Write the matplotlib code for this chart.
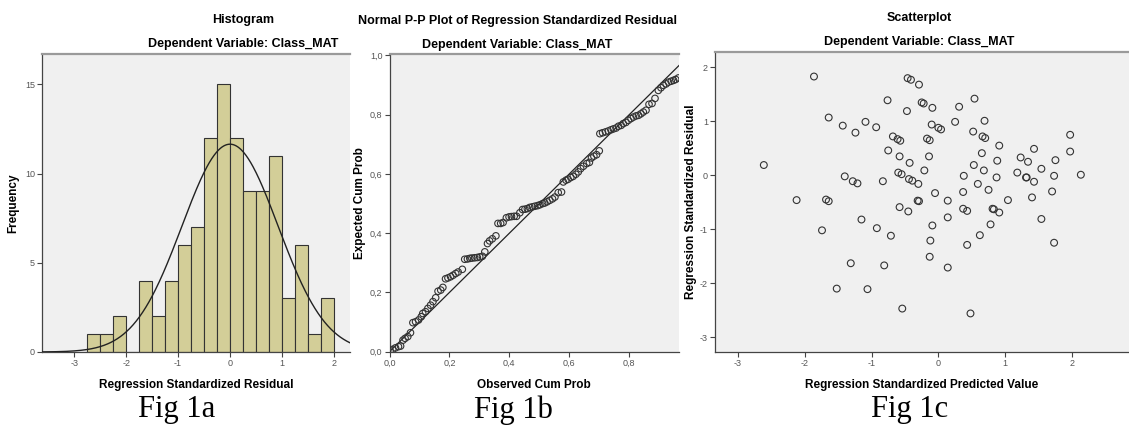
import numpy as np
import matplotlib
matplotlib.use("Agg")
import matplotlib.pyplot as plt
from matplotlib.ticker import FuncFormatter

plt.rcParams["font.family"] = ["Liberation Sans", "DejaVu Sans"]
plt.rcParams["axes.unicode_minus"] = False

# --- histogram (Fig 1a) ---
bin_edges = [-2.75, -2.5, -2.25, -2.0, -1.75, -1.5, -1.25, -1.0, -0.75, -0.5,
             -0.25, 0.0, 0.25, 0.5, 0.75, 1.0, 1.25, 1.5, 1.75, 2.0]
bin_counts = [1, 1, 2, 0, 4, 2, 4, 6, 7, 12, 15, 12, 9, 9, 11, 3, 6, 1, 3]
resid_mean = 0.0
resid_sd = 0.925
n_cases = 108

# --- normal P-P plot (Fig 1b) ---
observed_cum = [0.002, 0.011, 0.020, 0.030, 0.037, 0.045, 0.052, 0.061, 0.070,
                0.078, 0.087, 0.097, 0.106, 0.111, 0.120, 0.128, 0.137, 0.145,
                0.154, 0.162, 0.171, 0.178, 0.187, 0.195, 0.204, 0.212, 0.221,
                0.229, 0.243, 0.251, 0.260, 0.268, 0.275, 0.284, 0.293, 0.301,
                0.310, 0.318, 0.327, 0.334, 0.343, 0.355, 0.362, 0.371, 0.379,
                0.390, 0.399, 0.407, 0.416, 0.424, 0.435, 0.444, 0.452, 0.460,
                0.468, 0.477, 0.485, 0.494, 0.502, 0.511, 0.518, 0.526, 0.535,
                0.544, 0.552, 0.563, 0.574, 0.580, 0.589, 0.596, 0.605, 0.613,
                0.622, 0.630, 0.638, 0.647, 0.658, 0.667, 0.674, 0.682, 0.691,
                0.700, 0.702, 0.711, 0.721, 0.730, 0.739, 0.747, 0.756, 0.764,
                0.773, 0.780, 0.789, 0.797, 0.806, 0.814, 0.823, 0.831, 0.839,
                0.847, 0.856, 0.866, 0.876, 0.886, 0.897, 0.906, 0.914, 0.923,
                0.931, 0.940, 0.948, 0.955, 0.964]
expected_cum = [0.003, 0.008, 0.013, 0.017, 0.019, 0.039, 0.045, 0.051, 0.064,
                0.098, 0.101, 0.107, 0.118, 0.129, 0.135, 0.146, 0.157, 0.169,
                0.182, 0.204, 0.208, 0.217, 0.246, 0.249, 0.253, 0.258, 0.264,
                0.269, 0.278, 0.312, 0.313, 0.315, 0.316, 0.317, 0.318, 0.320,
                0.322, 0.337, 0.365, 0.374, 0.381, 0.391, 0.433, 0.433, 0.436,
                0.452, 0.455, 0.456, 0.457, 0.457, 0.469, 0.480, 0.481, 0.483,
                0.487, 0.489, 0.491, 0.493, 0.496, 0.500, 0.502, 0.506, 0.511,
                0.516, 0.522, 0.537, 0.539, 0.573, 0.579, 0.582, 0.588, 0.592,
                0.599, 0.607, 0.618, 0.626, 0.635, 0.639, 0.654, 0.660, 0.665,
                0.678, 0.736, 0.739, 0.742, 0.745, 0.749, 0.752, 0.755, 0.761,
                0.764, 0.770, 0.774, 0.781, 0.787, 0.792, 0.796, 0.798, 0.803,
                0.809, 0.815, 0.835, 0.838, 0.855, 0.882, 0.891, 0.899, 0.904,
                0.910, 0.913, 0.916, 0.919, 0.924]

# --- scatterplot (Fig 1c) ---
pred_value = [-1.86, -0.46, -0.41, -0.29, -0.76, 0.54, -0.25, -0.22, 0.31, -0.09,
              -0.47, -1.64, -1.09, 0.25, 0.69, -1.43, -0.93, -0.10, 0.00, 0.04,
              -1.24, 0.52, -0.68, -0.61, -0.57, -0.17, -0.13, 0.66, 0.70, 0.91,
              -0.75, 1.43, 1.97, 1.97, -0.58, -0.14, 0.65, 1.23, -2.61, -0.43,
              0.53, 0.88, 1.34, 1.75, 1.54, -0.21, 0.68, -0.60, -0.55, 1.18,
              2.13, -1.40, 0.38, 1.73, 1.32, 1.31, -1.28, -1.21, -0.83, -0.44,
              -0.39, -0.30, 0.59, 0.87, 1.43, -0.05, 0.37, 0.75, 1.70, -2.12,
              -1.68, -1.64, -0.31, -0.29, 0.14, 1.04, 1.40, -0.58, -0.45, 0.37,
              0.43, 0.81, 0.83, 0.91, -1.15, 0.14, 1.54, -1.74, -0.92, -0.09,
              0.78, -0.71, -0.12, 0.62, 0.43, 1.73, -0.13, -1.31, -0.81, 0.14,
              -1.52, -1.06, -0.54, 0.48]
std_resid = [1.83, 1.80, 1.77, 1.68, 1.39, 1.42, 1.35, 1.33, 1.27, 1.25,
             1.19, 1.07, 0.99, 0.99, 1.01, 0.92, 0.89, 0.94, 0.88, 0.85,
             0.79, 0.81, 0.72, 0.67, 0.64, 0.68, 0.65, 0.72, 0.69, 0.55,
             0.46, 0.49, 0.75, 0.44, 0.35, 0.35, 0.41, 0.33, 0.19, 0.23,
             0.19, 0.27, 0.25, 0.28, 0.12, 0.09, 0.09, 0.05, 0.02, 0.05,
             0.01, -0.02, -0.01, -0.01, -0.04, -0.04, -0.11, -0.15, -0.11, -0.07,
             -0.10, -0.16, -0.16, -0.04, -0.12, -0.33, -0.31, -0.27, -0.30, -0.46,
             -0.45, -0.48, -0.47, -0.48, -0.47, -0.46, -0.41, -0.59, -0.67, -0.62,
             -0.66, -0.62, -0.63, -0.69, -0.82, -0.78, -0.81, -1.02, -0.98, -0.93,
             -0.91, -1.12, -1.21, -1.11, -1.29, -1.25, -1.51, -1.63, -1.67, -1.71,
             -2.10, -2.11, -2.47, -2.56]

bg = "#f0f0f0"
bar_color = "#d3ce98"
edge = "#333333"
tick_col = "#555555"

fig = plt.figure(figsize=(11.29, 4.28), dpi=100)


def style_axes(ax):
    ax.set_facecolor(bg)
    ax.spines["right"].set_visible(False)
    ax.spines["top"].set_color("#9a9a9a")
    ax.spines["top"].set_linewidth(1.6)
    ax.spines["left"].set_color("#444444")
    ax.spines["bottom"].set_color("#444444")
    ax.spines["left"].set_linewidth(0.9)
    ax.spines["bottom"].set_linewidth(0.9)
    ax.tick_params(direction="out", length=3.5, width=0.8, colors="#444444",
                   labelsize=6.5, labelcolor=tick_col, pad=1.5)


def comma(v, pos):
    return f"{v:.1f}".replace(".", ",")


title_kw = dict(fontsize=9, fontweight="bold", ha="center", va="center")
label_kw = dict(fontsize=8.5, fontweight="bold")

# Fig 1a
ax1 = fig.add_axes([0.0372, 0.1776, 0.2728, 0.6963])
style_axes(ax1)
widths = np.diff(bin_edges)
ax1.bar(bin_edges[:-1], bin_counts, width=widths, align="edge",
        color=bar_color, edgecolor=edge, linewidth=0.8, zorder=2)
xs = np.linspace(-3.7, 2.4, 400)
pdf = n_cases * 0.25 / (resid_sd * np.sqrt(2 * np.pi)) * np.exp(-0.5 * ((xs - resid_mean) / resid_sd) ** 2)
ax1.plot(xs, pdf, color="#222222", lw=1.0, zorder=3)
ax1.set_xlim(-3.62, 2.31)
ax1.set_ylim(0, 16.7)
ax1.set_xticks([-3, -2, -1, 0, 1, 2])
ax1.set_yticks([0, 5, 10, 15])
ax1.set_xlabel("Regression Standardized Residual", labelpad=8, **label_kw)
ax1.set_ylabel("Frequency", labelpad=4, **label_kw)

# Fig 1b
ax2 = fig.add_axes([0.345, 0.1783, 0.2564, 0.6956])
style_axes(ax2)
ax2.plot([0, 1], [0, 1], color="#222222", lw=0.9, zorder=2)
ax2.scatter(observed_cum, expected_cum, s=22, facecolors="none",
            edgecolors="#333333", linewidths=0.8, zorder=3, clip_on=True)
ax2.set_xlim(0, 0.966)
ax2.set_ylim(0, 1.005)
ax2.set_xticks([0, 0.2, 0.4, 0.6, 0.8])
ax2.set_yticks([0, 0.2, 0.4, 0.6, 0.8, 1.0])
ax2.xaxis.set_major_formatter(FuncFormatter(comma))
ax2.yaxis.set_major_formatter(FuncFormatter(comma))
ax2.set_xlabel("Observed Cum Prob", labelpad=8, **label_kw)
ax2.set_ylabel("Expected Cum Prob", labelpad=3, **label_kw)

# Fig 1c
ax3 = fig.add_axes([0.6333, 0.1769, 0.3667, 0.7023])
style_axes(ax3)
ax3.scatter(pred_value, std_resid, s=24, facecolors="none",
            edgecolors="#333333", linewidths=0.8, zorder=3)
ax3.set_xlim(-3.34, 2.85)
ax3.set_ylim(-3.28, 2.29)
ax3.set_xticks([-3, -2, -1, 0, 1, 2])
ax3.set_yticks([-3, -2, -1, 0, 1, 2])
ax3.set_xlabel("Regression Standardized Predicted Value", labelpad=8, **label_kw)
ax3.set_ylabel("Regression Standardized Residual", labelpad=2, **label_kw)

# titles
fig.text(243 / 1129, 1 - 20 / 428, "Histogram", **title_kw)
fig.text(243 / 1129, 1 - 44 / 428, "Dependent Variable: Class_MAT", **title_kw)
fig.text(517 / 1129, 1 - 21 / 428, "Normal P-P Plot of Regression Standardized Residual", **title_kw)
fig.text(517 / 1129, 1 - 45 / 428, "Dependent Variable: Class_MAT", **title_kw)
fig.text(919 / 1129, 1 - 18 / 428, "Scatterplot", **title_kw)
fig.text(919 / 1129, 1 - 42 / 428, "Dependent Variable: Class_MAT", **title_kw)

# figure captions
cap_kw = dict(fontsize=22, family="Liberation Serif", ha="center", va="center")
fig.text(177 / 1129, 1 - 410 / 428, "Fig 1a", **cap_kw)
fig.text(513 / 1129, 1 - 410 / 428, "Fig 1b", **cap_kw)
fig.text(910 / 1129, 1 - 410 / 428, "Fig 1c", **cap_kw)

fig.savefig("out.png", dpi=100, facecolor="white")
